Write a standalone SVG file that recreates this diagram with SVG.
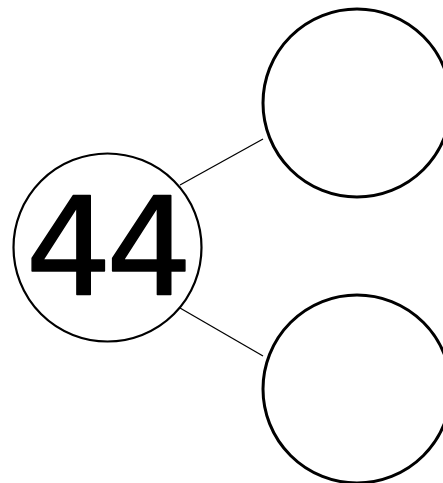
<svg xmlns="http://www.w3.org/2000/svg" width="443" height="483" viewBox="0 0 443 483">
<style>
.node{fill:#fff;stroke:#000}
.edge{stroke:#000;stroke-width:1.3;fill:none}
.lbl{font-family:"DejaVu Sans",sans-serif;font-size:136px;fill:#000;stroke:#000;stroke-width:1.5;stroke-linejoin:round;text-anchor:middle;letter-spacing:-6px}
</style>
<rect width="443" height="483" fill="#fff"/>
<g id="connectors">
<line class="edge" x1="180" y1="185" x2="263" y2="139"/>
<line class="edge" x1="180" y1="308" x2="263" y2="356"/>
</g>
<g id="node-44">
<circle class="node" cx="107.5" cy="247.5" r="94" stroke-width="2.2"/>
<text class="lbl" x="106" y="294">44</text>
</g>
<g id="node-top">
<circle class="node" cx="357" cy="103" r="94" stroke-width="3"/>
</g>
<g id="node-bottom">
<circle class="node" cx="357" cy="389" r="94" stroke-width="3"/>
</g>
</svg>
